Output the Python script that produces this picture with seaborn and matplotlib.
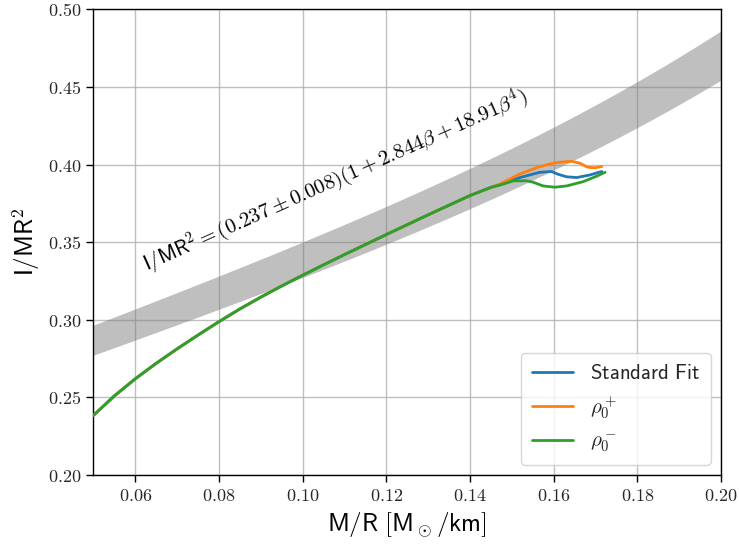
import numpy as np
import pandas as pd
import matplotlib
matplotlib.use("Agg")
import matplotlib.pyplot as plt
import seaborn as sns
from matplotlib.ticker import FuncFormatter

# ---- data ----
base_x = [0.050, 0.055, 0.060, 0.065, 0.070, 0.075, 0.080, 0.085, 0.090, 0.095,
          0.100, 0.105, 0.110, 0.120, 0.130, 0.140, 0.145]
base_y = [0.2385, 0.2510, 0.2620, 0.2720, 0.2813, 0.2902, 0.2988, 0.3070, 0.3146, 0.3218,
          0.3287, 0.3354, 0.3420, 0.3549, 0.3676, 0.3800, 0.3853]

std_tail_x = [0.1472, 0.1519, 0.1567, 0.1595, 0.1611, 0.1631, 0.1655, 0.1687, 0.1715]
std_tail_y = [0.3870, 0.3916, 0.3950, 0.3955, 0.3937, 0.3921, 0.3916, 0.3933, 0.3955]

plus_tail_x = [0.1472, 0.1519, 0.1567, 0.1607, 0.1643, 0.1663, 0.1681, 0.1699, 0.1715]
plus_tail_y = [0.3875, 0.3939, 0.3987, 0.4013, 0.4021, 0.4008, 0.3983, 0.3979, 0.3987]

minus_tail_x = [0.1472, 0.1504, 0.1536, 0.1551, 0.1575, 0.1603, 0.1631, 0.1671, 0.1703, 0.1723]
minus_tail_y = [0.3868, 0.3895, 0.3895, 0.3886, 0.3862, 0.3854, 0.3862, 0.3890, 0.3925, 0.3950]

series_names = [r"$\mathsf{Standard\ Fit}$", r"$\rho_0^+$", r"$\rho_0^-$"]

# fit band: I/MR^2 = (0.237 +- 0.008)(1 + 2.844 beta + 18.91 beta^4), beta = 1.477 M/R
fit_a = 0.237
fit_da = 0.008
fit_b = 2.844
fit_c = 18.91
beta_per_MR = 1.477

xticks = [0.06, 0.08, 0.10, 0.12, 0.14, 0.16, 0.18, 0.20]
yticks = [0.20, 0.25, 0.30, 0.35, 0.40, 0.45, 0.50]

# ---- build table ----
rows = []
for name, tx, ty in zip(series_names,
                        [std_tail_x, plus_tail_x, minus_tail_x],
                        [std_tail_y, plus_tail_y, minus_tail_y]):
    for x, y in zip(base_x + tx, base_y + ty):
        rows.append({"MR": x, "I": y, "series": name})
df = pd.DataFrame(rows)

sns.set_theme(style="ticks")
plt.rcParams["mathtext.fontset"] = "cm"
plt.rcParams["font.family"] = ["DejaVu Sans"]

fig = plt.figure(figsize=(7.39, 5.44), dpi=100)
ax = fig.add_axes([0.1265, 0.1267, 0.8491, 0.8563])

xb = np.linspace(0.05, 0.20, 200)
beta = beta_per_MR * xb
shape = 1 + fit_b * beta + fit_c * beta ** 4
ax.fill_between(xb, (fit_a - fit_da) * shape, (fit_a + fit_da) * shape,
                color="grey", alpha=0.5, linewidth=0, zorder=2)

sns.lineplot(data=df, x="MR", y="I", hue="series", hue_order=series_names,
             palette=["#1f77b4", "#ff7f0e", "#2ca02c"], sort=False,
             estimator=None, linewidth=2, ax=ax, zorder=3)

ax.set_xlim(0.05, 0.20)
ax.set_ylim(0.20, 0.50)
ax.set_xticks(xticks)
ax.set_yticks(yticks)
fmt = FuncFormatter(lambda v, p: r"$%.2f$" % v)
ax.xaxis.set_major_formatter(fmt)
ax.yaxis.set_major_formatter(fmt)
ax.tick_params(axis="both", labelsize=13, direction="out", length=5, width=1, color="black")
ax.grid(True, color="#b0b0b0", linewidth=1, alpha=0.8, zorder=0)
ax.set_axisbelow(True)
for s in ax.spines.values():
    s.set_color("black")
    s.set_linewidth(1)

ax.set_xlabel(r"$\mathsf{M/R\ [M_\odot/km]}$", fontsize=18, color="black")
ax.set_ylabel(r"$\mathsf{I/MR^2}$", fontsize=18, color="black")

ax.text(0.1077, 0.390,
        r"$\mathsf{I/MR^2} = (0.237 \pm 0.008)(1 + 2.844\beta + 18.91\beta^4)$",
        rotation=24, ha="center", va="center", fontsize=15, color="black",
        rotation_mode="anchor")

leg = ax.legend(loc="lower right", fontsize=15, frameon=True, title=None,
                handlelength=2, borderpad=0.5, labelspacing=0.5)
leg.get_frame().set_edgecolor("#cccccc")

fig.savefig("out.png", dpi=100)
